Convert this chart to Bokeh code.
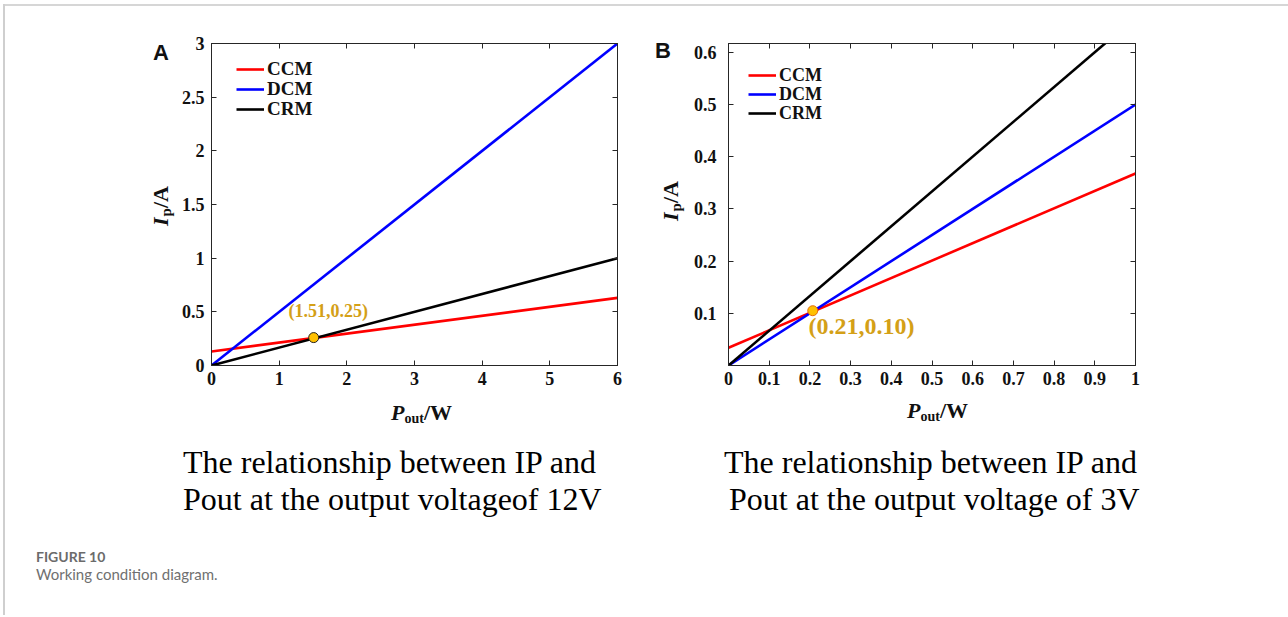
from bokeh.plotting import figure
from bokeh.models import Label, LinearAxis, FixedTicker, Range1d, Div, Legend, LegendItem
from bokeh.layouts import row, column
from bokeh.embed import file_html
from bokeh.resources import INLINE

# ---------------- Panel A: output voltage 12 V ----------------
a_pout = [0, 6]
a_ccm = [0.13, 0.63]
a_dcm = [0, 3]
a_crm = [0, 1]
a_point_x = [1.51]
a_point_y = [0.26]
a_point_text = "(1.51,0.25)"
a_xticks = [0, 1, 2, 3, 4, 5, 6]
a_xtick_labels = ["0", "1", "2", "3", "4", "5", "6"]
a_yticks = [0, 0.5, 1, 1.5, 2, 2.5, 3]
a_ytick_labels = ["0", "0.5", "1", "1.5", "2", "2.5", "3"]
a_caption = ["The relationship between IP and", "Pout at the output voltageof 12V"]

# ---------------- Panel B: output voltage 3 V ----------------
b_pout = [0, 1]
b_ccm = [0.034, 0.368]
b_dcm = [0, 0.5]
b_crm = [0, 0.667]
b_point_x = [0.207]
b_point_y = [0.105]
b_point_text = "(0.21,0.10)"
b_xticks = [0, 0.1, 0.2, 0.3, 0.4, 0.5, 0.6, 0.7, 0.8, 0.9, 1]
b_xtick_labels = ["0", "0.1", "0.2", "0.3", "0.4", "0.5", "0.6", "0.7", "0.8", "0.9", "1"]
b_yticks = [0.1, 0.2, 0.3, 0.4, 0.5, 0.6]
b_ytick_labels = ["0.1", "0.2", "0.3", "0.4", "0.5", "0.6"]
b_caption = ["The relationship between IP and", "Pout at the output voltage of 3V"]

series_names = ["CCM", "DCM", "CRM"]
series_colors = ["#FF0000", "#0000FF", "#000000"]

fig_number = "FIGURE 10"
fig_title = "Working condition diagram."

SERIF = "Liberation Serif"
AXC = "#262626"
GOLD = "#D4A017"
ROW_Y = 8      # page y where the chart row starts
ROW_H = 390    # height of the chart row
BOT_Y = ROW_Y + ROW_H
BOT_H = 217
LEG_ROW = 22


def style_axis(ax, ticks, labels, standoff, show_labels=True):
    ax.ticker = FixedTicker(ticks=ticks)
    ax.major_label_overrides = {t: (l if show_labels else "") for t, l in zip(ticks, labels)}
    ax.major_tick_in = 5
    ax.major_tick_out = 0
    ax.minor_tick_line_color = None
    ax.axis_line_color = AXC
    ax.major_tick_line_color = AXC
    ax.major_label_text_font = SERIF
    ax.major_label_text_font_style = "bold"
    ax.major_label_text_color = "#111111"
    ax.major_label_text_font_size = "18px"
    ax.major_label_standoff = standoff


def make_panel(xr, yr, xs, ys_list, xt, xtl, yt, ytl, borders, ystand, legend_x, legend_ys, legend_fs):
    left, right, top, bottom = borders
    p = figure(width=left + 407 + right, height=ROW_H, x_range=Range1d(*xr), y_range=Range1d(*yr),
               output_backend="svg", toolbar_location=None,
               min_border_left=left, min_border_right=right,
               min_border_top=top, min_border_bottom=bottom)
    p.grid.visible = False
    p.outline_line_color = AXC
    p.background_fill_color = "white"
    p.border_fill_color = "white"
    style_axis(p.xaxis[0], xt, xtl, 6)
    style_axis(p.yaxis[0], yt, ytl, ystand)
    top_ax = LinearAxis()
    style_axis(top_ax, xt, xtl, 0, show_labels=False)
    p.add_layout(top_ax, "above")
    right_ax = LinearAxis()
    style_axis(right_ax, yt, ytl, 0, show_labels=False)
    p.add_layout(right_ax, "right")
    for ys, name, col, ly in zip(ys_list, series_names, series_colors, legend_ys):
        r = p.line(xs, ys, line_color=col, line_width=2.6)
        # one single-row legend per series, placed in screen px from the frame's bottom-left
        lg = Legend(items=[LegendItem(label=name, renderers=[r])], location=(legend_x, ly))
        lg.border_line_color = None
        lg.background_fill_alpha = 0
        lg.padding = 0
        lg.margin = 0
        lg.spacing = 0
        lg.glyph_width = 28
        lg.glyph_height = LEG_ROW
        lg.label_height = LEG_ROW
        lg.label_standoff = 3
        lg.label_text_font = SERIF
        lg.label_text_font_style = "bold"
        lg.label_text_font_size = legend_fs
        lg.label_text_color = "#111111"
        p.add_layout(lg)
    return p


# ---- Panel A ---- (frame: page x 210..617, y 43..368)
pa = make_panel((0, 6), (0, 3), a_pout, [a_ccm, a_dcm, a_crm], a_xticks, a_xtick_labels,
                a_yticks, a_ytick_labels, (32, 31, 35, ROW_H - 35 - 325), 7, 25, [285, 265, 245], "19px")
pa.scatter(a_point_x, a_point_y, size=10, fill_color="#FFC000", line_color="#222222", line_width=1)
pa.add_layout(Label(x=1.725, y=0.508, text=a_point_text, text_align="center", text_baseline="middle",
                    text_font=SERIF, text_font_style="bold", text_font_size="18px", text_color=GOLD))

# ---- Panel B ---- (frame: page x 728..1135, y 40..365)
pb = make_panel((0, 1), (0, 0.617), b_pout, [b_ccm, b_dcm, b_crm], b_xticks, b_xtick_labels,
                b_yticks, b_ytick_labels, (40, 145, 32, ROW_H - 32 - 325), 12, 20, [279, 260, 241], "18px")
pb.scatter(b_point_x, b_point_y, size=10, fill_color="#FFC000", line_color="#E46C0A", line_width=1)
pb.add_layout(Label(x=0.327, y=0.0757, text=b_point_text, text_align="center", text_baseline="middle",
                    text_font=SERIF, text_font_style="bold", text_font_size="24px", text_color=GOLD))


# ---------------- HTML text pieces ----------------
SERIF_M = (0.891, 0.216)
SANS_M = (0.905, 0.212)
LATO_M = (0.987, 0.213)


def top_for(baseline, fs, lh, metrics):
    asc, desc = metrics
    return baseline - ((lh - (asc + desc) * fs) / 2 + asc * fs)


def abs_text(html, left, baseline, fs, family, metrics, y0, weight="normal", color="#111111", lh=None):
    lh = lh or fs
    top = top_for(baseline, fs, lh, metrics) - y0
    return (f'<div style="position:absolute;left:{left}px;top:{top:.1f}px;font-family:\'{family}\';'
            f'font-size:{fs}px;line-height:{lh}px;font-weight:{weight};color:{color};'
            f'white-space:nowrap;">{html}</div>')


def x_title(left, baseline, y0):
    html = ('<i>P</i><span style="font-size:14px;position:relative;top:3px;">out</span>/W')
    return abs_text(html, left, baseline, 22, SERIF, SERIF_M, y0, weight="bold")


def y_title(baseline_x, start_y, x0, y0):
    fs = 22
    b = -top_for(0, fs, fs, SERIF_M)  # distance from line-box top to baseline
    html = ('<i>I</i><span style="font-size:15px;position:relative;top:3px;padding-left:1px;">p</span>/A')
    return (f'<div style="position:absolute;left:{baseline_x - b - x0:.1f}px;top:{start_y - y0}px;'
            f'transform-origin:0 0;transform:rotate(-90deg);font-family:\'{SERIF}\';font-size:{fs}px;'
            f'line-height:{fs}px;font-weight:bold;color:#111111;white-space:nowrap;">{html}</div>')


def letter(ch, left, baseline, x0, y0):
    return abs_text(ch, left - x0, baseline, 22, "Liberation Sans", SANS_M, y0, weight="bold")


def left_rule(h):
    return f'<div style="position:absolute;left:3px;top:0;width:2px;height:{h}px;background:#cfcfcf;"></div>'


def box(inner, w, h):
    return f'<div style="position:relative;width:{w}px;height:{h}px;overflow:visible;">{inner}</div>'


def html_div(inner, w, h):
    return Div(text=box(inner, w, h), width=w, height=h, margin=0)


# top strip with the page frame line (content of this short box sits ~4px low, hence top:0)
strip = html_div('<div style="position:absolute;left:3px;top:0px;width:1285px;height:2px;background:#d6d6d6;"></div>'
                 + '<div style="position:absolute;left:3px;top:0px;width:2px;height:8px;background:#cfcfcf;"></div>',
                 1288, ROW_Y)

# left margin of panel A: frame rule, letter A, y title
divA = html_div(left_rule(ROW_H) + letter("A", 153, 61, 0, ROW_Y) + y_title(168, 226, 0, ROW_Y), 178, ROW_H)
# gap between panels: letter B, y title
divB = html_div(letter("B", 655, 59, 648, ROW_Y) + y_title(678, 221, 648, ROW_Y), 40, ROW_H)

cap_fs, cap_lh = 32, 37
bottom_html = left_rule(BOT_H)
bottom_html += x_title(391, 420, BOT_Y)
bottom_html += x_title(907, 418, BOT_Y)
for i, line in enumerate(a_caption):
    bottom_html += abs_text(line, 183, 473 + 37 * i, cap_fs, SERIF, SERIF_M, BOT_Y, color="#000000", lh=cap_lh)
for i, (line, lx) in enumerate(zip(b_caption, [724, 729])):
    bottom_html += abs_text(line, lx, 473 + 37 * i, cap_fs, SERIF, SERIF_M, BOT_Y, color="#000000", lh=cap_lh)
bottom_html += abs_text(fig_number, 36, 562, 14, "Lato", LATO_M, BOT_Y, weight="bold", color="#6b6b6b")
bottom_html += abs_text(fig_title, 36, 580, 15, "Lato", LATO_M, BOT_Y, color="#707070")
bottom = html_div(bottom_html, 1280, BOT_H)

layout = column(strip, row(divA, pa, divB, pb, spacing=0), bottom, spacing=0)
open("out.html", "w").write(file_html(layout, INLINE))
